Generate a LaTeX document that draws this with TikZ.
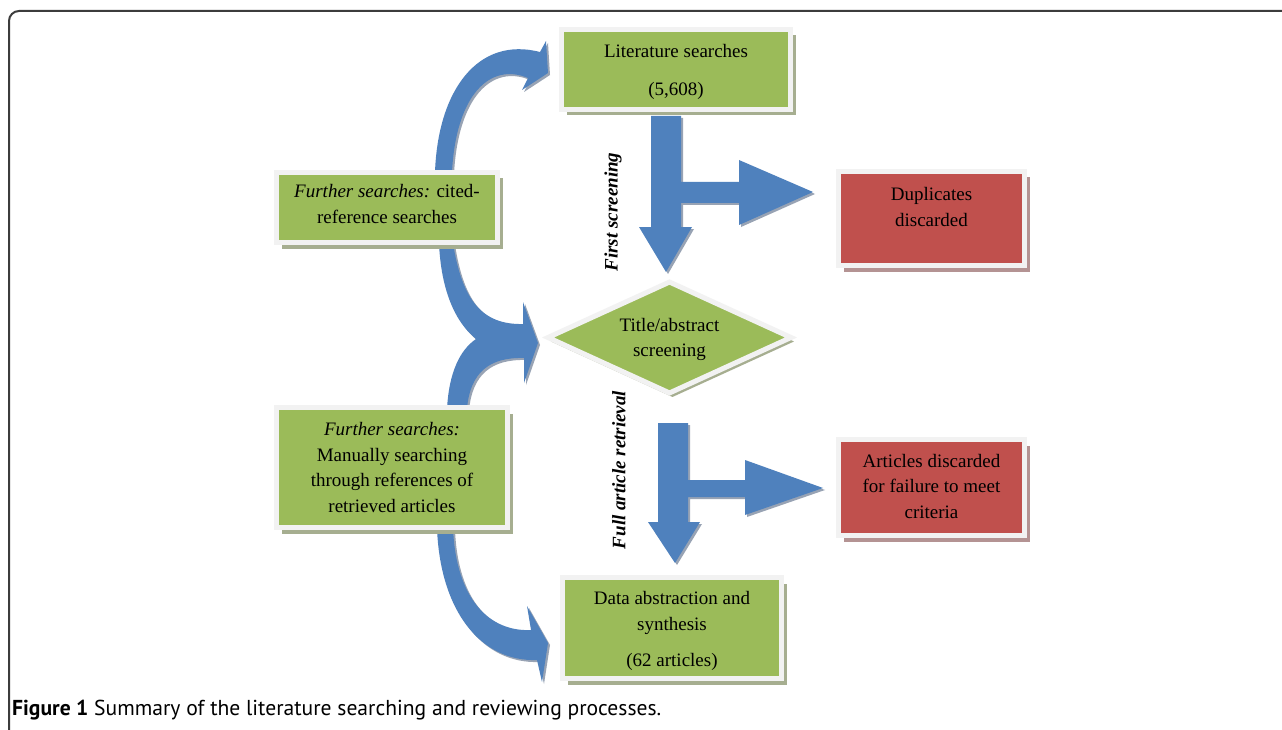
\documentclass[tikz,border=0pt]{standalone}
\usepackage{fontspec}
\setmainfont{Liberation Serif}
\newfontfamily\capfont{PT Sans}
\usetikzlibrary{shapes.geometric,shadows,calc}
\definecolor{boxgreen}{HTML}{9BBB59}
\definecolor{boxred}{HTML}{C0504D}
\definecolor{arrowblue}{HTML}{4F81BD}
\definecolor{edgegray}{HTML}{F2F2F2}
\definecolor{greenshadow}{HTML}{A6AE90}
\definecolor{redshadow}{HTML}{B49393}
\definecolor{blueshadow}{HTML}{98A3B4}
\definecolor{framegray}{HTML}{3C3C3C}
\begin{document}
\begin{tikzpicture}[x=1pt,y=-1pt,
  box/.style={draw=edgegray, line width=5pt, inner sep=0pt},
  greenbox/.style={box, fill=boxgreen,
    drop shadow={shadow xshift=5pt, shadow yshift=-6pt, fill=greenshadow, opacity=1}},
  redbox/.style={box, fill=boxred,
    drop shadow={shadow xshift=5pt, shadow yshift=-6pt, fill=redshadow, opacity=1}},
  greendiamond/.style={box, diamond, fill=boxgreen,
    drop shadow={shadow xshift=3pt, shadow yshift=-4pt, fill=greenshadow, opacity=1}},
  boxtext/.style={inner sep=0pt, align=center, font=\fontsize{19}{25.5}\selectfont},
  blockarrow/.style={fill=arrowblue,
    drop shadow={shadow xshift=2pt, shadow yshift=-2pt, fill=blueshadow, opacity=1}},
  sidelabel/.style={rotate=90, font=\fontsize{19}{22}\selectfont\bfseries\itshape},
  captext/.style={anchor=base west, inner sep=0pt, font=\capfont\fontsize{21.6}{24}\selectfont},
]
\useasboundingbox (0,0) rectangle (1282,730);
\fill[white] (0,0) rectangle (1282,730);
% frame
\draw[framegray, line width=2pt, rounded corners=10pt] (9,745) -- (9,11) -- (1300,11);

% curved arrows
\fill[blockarrow] (435,172) .. controls (438,90) and (478,36) .. (540,52) -- (546,41) -- (548,73) -- (522,90) -- (528,78) .. controls (490,62) and (456,95) .. (452,172) -- cycle;
\fill[blockarrow] (453,243) .. controls (462,300) and (482,325) .. (523,324) -- (523,302) -- (538,343) -- (524,383) -- (524,358) .. controls (490,357) and (470,372) .. (467,409) -- (447,409) .. controls (449,372) and (460,350) .. (476,339) .. controls (455,322) and (441,290) .. (439,243) -- cycle;
\fill[blockarrow] (437,528) .. controls (440,610) and (480,662) .. (537,660) -- (542,682) -- (548,643) -- (527,606) -- (531,630) .. controls (490,632) and (456,600) .. (453,528) -- cycle;

% split block arrows
\fill[blockarrow] (651,116) -- (681,116) -- (681,182) -- (739,182) -- (739,160) -- (813,192) -- (739,225) -- (739,203) -- (681,203) -- (681,227) -- (692,227) -- (666,272) -- (639,227) -- (651,227) -- cycle;
\fill[blockarrow] (658,423) -- (688,423) -- (688,480) -- (745,480) -- (745,460) -- (823,488) -- (745,515) -- (745,497) -- (688,497) -- (688,522) -- (700,522) -- (675,563) -- (648,522) -- (658,522) -- cycle;

% boxes
\node[greenbox, minimum width=229pt, minimum height=80pt] (lit) at (676,69.5) {};
\node[redbox, minimum width=186pt, minimum height=94pt] (dup) at (931.5,218.5) {};
\node[greenbox, minimum width=221pt, minimum height=70pt] (cited) at (387,207.5) {};
\node[greendiamond, minimum width=245pt, minimum height=113pt] (screen) at (669.5,337.5) {};
\node[greenbox, minimum width=231pt, minimum height=120pt] (manual) at (392,467.5) {};
\node[redbox, minimum width=186pt, minimum height=96pt] (artdisc) at (931.5,487.5) {};
\node[greenbox, minimum width=219pt, minimum height=101pt] (data) at (672,628) {};

% box texts
\node[boxtext] (littext) at ($(lit.center)+(0,2.5)$) {Literature searches\\[12pt](5,608)};
\node[boxtext] (duptext) at ($(dup.center)+(0,-11.5)$) {Duplicates\\discarded};
\node[boxtext] (citedtext) at ($(cited.center)+(0,-3.5)$) {\textit{Further searches:} cited-\\reference searches};
\node[boxtext] (screentext) at ($(screen.center)+(0,2)$) {Title/abstract\\screening};
\node[boxtext] (manualtext) at (manual.center) {\textit{Further searches:}\\Manually searching\\through references of\\retrieved articles};
\node[boxtext] (artdisctext) at ($(artdisc.center)+(0,-1.5)$) {Articles discarded\\for failure to meet\\criteria};
\node[boxtext] (datatext) at ($(data.center)+(0,3)$) {Data abstraction and\\synthesis\\[11pt](62 articles)};

% side labels
\node[sidelabel] (lab1) at (613,212) {First screening};
\node[sidelabel] (lab2) at (619,470) {Full article retrieval};

% caption
\node[captext] (cap) at (12,715) {\textbf{Figure 1} Summary of the literature searching and reviewing processes.};
\end{tikzpicture}
\end{document}
